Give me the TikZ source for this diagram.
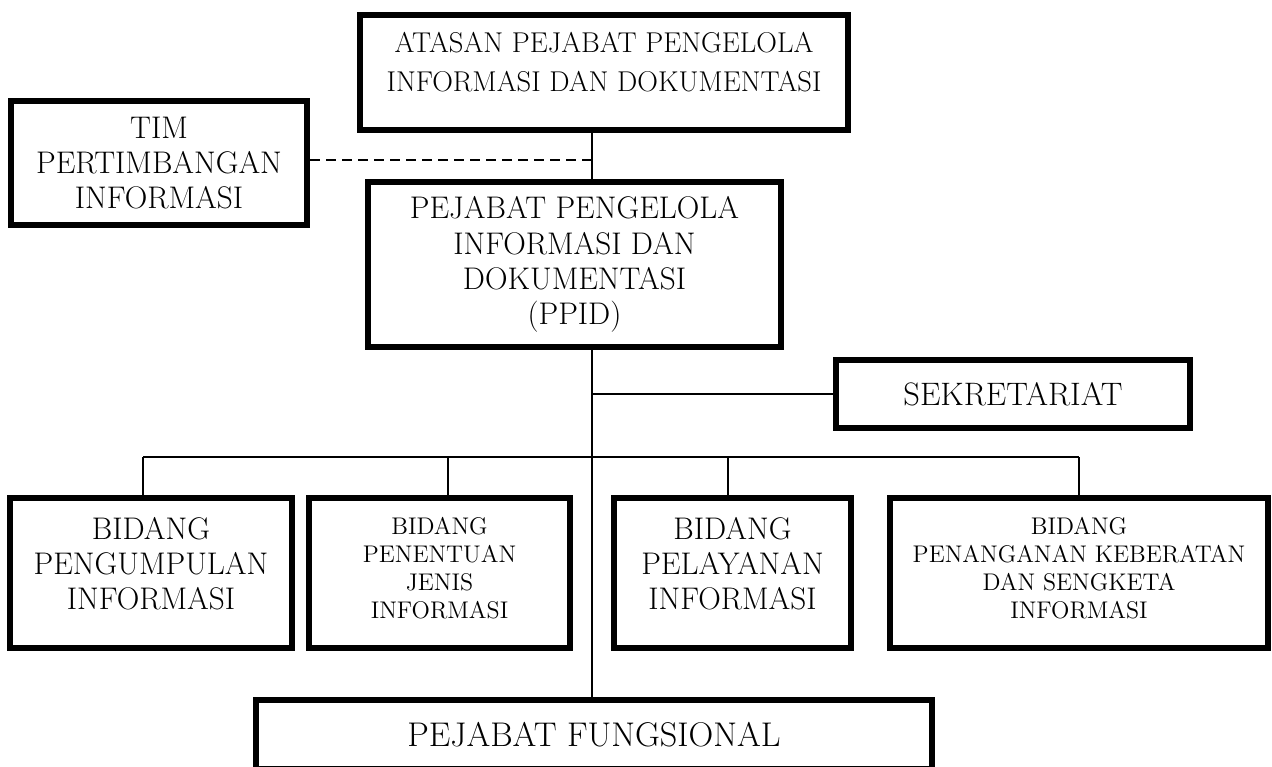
\documentclass[tikz,border=0pt]{standalone}
\usepackage{tikz}
\usetikzlibrary{positioning,calc}

\begin{document}
\begin{tikzpicture}[x=0.02cm, y=-0.02cm,
    box/.style={draw, line width=0.13cm, inner sep=0pt, align=center},
    link/.style={line width=0.028cm},
    dashlink/.style={line width=0.04cm, dash pattern=on 0.2cm off 0.12cm},
    bigtext/.style={font=\fontsize{17.8}{20}\selectfont},
    smalltext/.style={font=\fontsize{13.7}{16}\selectfont}]
  \useasboundingbox (0,0) rectangle (1272,767);
  % Boxes
  \node[box, minimum width=9.76cm, minimum height=2.3cm, font=\fontsize{16.3}{22}\selectfont]
    (atasan) at (604,72.5) {ATASAN PEJABAT PENGELOLA\\INFORMASI DAN DOKUMENTASI\\[-10.1pt]~};
  \node[box, bigtext, minimum width=5.92cm, minimum height=2.48cm]
    (tim) at (159,163) {TIM\\PERTIMBANGAN\\INFORMASI};
  \node[box, bigtext, minimum width=8.26cm, minimum height=3.3cm]
    (ppid) at (574.5,264.5) {PEJABAT PENGELOLA\\INFORMASI DAN\\DOKUMENTASI\\(PPID)};
  \node[box, minimum width=7.08cm, minimum height=1.36cm, font=\fontsize{18.5}{20}\selectfont]
    (sek) at (1013,394) {SEKRETARIAT};
  \node[box, bigtext, minimum width=5.64cm, minimum height=3cm]
    (kumpul) at (151,573) {BIDANG\\PENGUMPULAN\\INFORMASI\\[-9.2pt]~};
  \node[box, smalltext, minimum width=5.22cm, minimum height=3cm]
    (tentu) at (439.5,573) {BIDANG\\PENENTUAN\\JENIS\\INFORMASI\\[-10.3pt]~};
  \node[box, bigtext, minimum width=4.74cm, minimum height=3cm]
    (layan) at (732.5,573) {BIDANG\\PELAYANAN\\INFORMASI\\[-9.2pt]~};
  \node[box, smalltext, minimum width=7.56cm, minimum height=3cm]
    (keberatan) at (1079,573) {BIDANG\\PENANGANAN KEBERATAN\\DAN SENGKETA\\INFORMASI\\[-10.3pt]~};
  \node[box, minimum width=13.52cm, minimum height=1.38cm, font=\fontsize{19.5}{22}\selectfont]
    (fungsi) at (594,734.5) {PEJABAT FUNGSIONAL};
  % Lines
  \coordinate (trunk) at (592,160);
  \coordinate (busl) at (143,457);
  \coordinate (bus2) at (448,457);
  \coordinate (bus3) at (728,457);
  \coordinate (busr) at (1079,457);
  \draw[link] (atasan.south -| trunk) -- (ppid.north -| trunk);
  \draw[dashlink] (tim.east |- trunk) -- (trunk);
  \draw[link] (ppid.south -| trunk) -- (fungsi.north -| trunk);
  \draw[link] (sek.west -| trunk) -- (sek.west);
  \draw[link] (busl) -- (busr);
  \draw[link] (busl) -- (busl |- kumpul.north);
  \draw[link] (bus2) -- (bus2 |- tentu.north);
  \draw[link] (bus3) -- (bus3 |- layan.north);
  \draw[link] (busr) -- (busr |- keberatan.north);
\end{tikzpicture}
\end{document}
